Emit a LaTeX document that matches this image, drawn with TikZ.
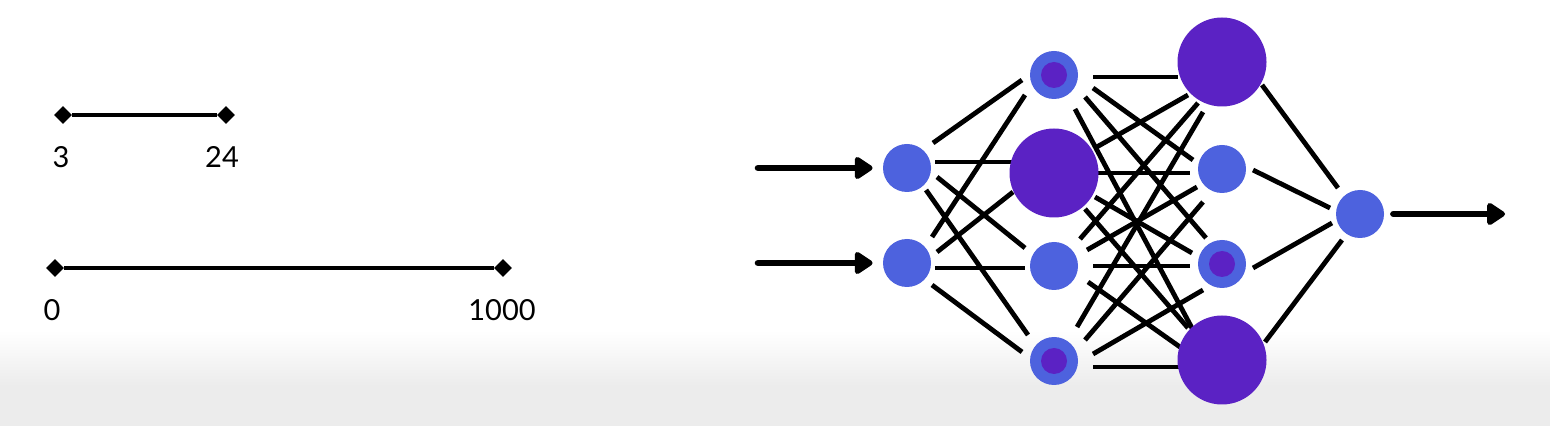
\documentclass[tikz,border=0pt]{standalone}
\usepackage{fontspec}
\setmainfont{Lato}
\usetikzlibrary{arrows.meta,shapes.geometric,backgrounds}

\definecolor{nodeblue}{RGB}{77,98,222}
\definecolor{nodepurple}{RGB}{91,34,196}
\definecolor{bggray}{RGB}{236,236,236}

\tikzset{
  neuron/.style={circle,fill=nodeblue,minimum size=24pt,inner sep=0pt},
  bigneuron/.style={circle,fill=nodepurple,minimum size=44.5pt,inner sep=0pt},
  ringneuron/.style={neuron,path picture={\fill[nodepurple] (path picture bounding box.center) circle (6.5pt);}},
  link/.style={line width=2.4pt},
  flow/.style={line width=3.3pt,line cap=round,-{Triangle[length=10pt,width=12.5pt,round]}},
  tick/.style={diamond,fill=black,minimum size=9pt,inner sep=0pt},
  rangeline/.style={line width=2.4pt},
  num/.style={font=\fontsize{14.5}{17}\selectfont,inner sep=0pt}
}

\begin{document}
\begin{tikzpicture}[x=0.5pt,y=-0.5pt]
    \useasboundingbox (0,0) rectangle (1550,426);

    % Draw the background fading to grey at the bottom
    \begin{scope}[on background layer]
        \fill[white] (0,0) rectangle (1550,331);
        \shade[top color=white,bottom color=bggray] (0,330) rectangle (1550,386);
        \fill[bggray] (0,385) rectangle (1550,426);
    \end{scope}

    % Draw the two ranges
    \node[tick] (a1) at (63,115) {};
    \node[tick] (a2) at (226,115) {};
    \draw[rangeline] (a1) -- (a2);
    \node[num] (la1) at (61,157) {3};
    \node[num] (la2) at (222,157) {24};

    \node[tick] (b1) at (55,268) {};
    \node[tick] (b2) at (503,268) {};
    \draw[rangeline] (b1) -- (b2);
    \node[num] (lb1) at (52,310) {0};
    \node[num] (lb2) at (502,310) {1000};

    % Input layer
    \node[neuron] (x1) at (907,168) {};
    \node[neuron] (x2) at (907,263) {};

    % First hidden layer
    \node[ringneuron] (h1) at (1054,75) {};
    \node[bigneuron] (h2) at (1054,173) {};
    \node[neuron] (h3) at (1054,266) {};
    \node[ringneuron] (h4) at (1054,361) {};

    % Second hidden layer
    \node[bigneuron] (g1) at (1222,62) {};
    \node[neuron] (g2) at (1222,169) {};
    \node[ringneuron] (g3) at (1222,264) {};
    \node[bigneuron] (g4) at (1222,360) {};

    % Output neuron
    \node[neuron] (y) at (1360,214) {};

    % Connections between the layers (ends set off from the centres)
    \begin{scope}[on background layer]
        \foreach \a/\b/\sx/\sy/\ex/\ey in {
            x1/h1/26/-25/-32/5, x1/h2/28/-6/-39/-11, x1/h3/30/9/-29/-18, x1/h4/19/22/-26/-26,
            x2/h1/25/-26/-29/20, x2/h2/30/-11/-41/19, x2/h3/28/5/-29/2, x2/h4/25/22/-32/-9,
            h1/g1/39/2/-44/15, h1/g2/39/13/-29/-9, h1/g3/31/22/-16/-26, h1/g4/21/34/-29/-30,
            h2/g1/41/-25/-34/33, h2/g2/44/0/-32/4, h2/g3/41/24/-30/-11, h2/g4/31/36/-34/-32,
            h3/g1/26/-27/-24/41, h3/g2/33/-16/-25/18, h3/g3/39/0/-32/2, h3/g4/34/16/-42/-13,
            h4/g1/23/-34/-19/50, h4/g2/31/-21/-19/33, h4/g3/39/-7/-19/26, h4/g4/39/6/-42/7,
            g1/y/40/23/-22/-26, g2/y/31/1/-30/-6, g3/y/31/4/-28/9, g4/y/43/-18/-18/26}
            \draw[link] ([shift={(\sx,\sy)}]\a.center) -- ([shift={(\ex,\ey)}]\b.center);
    \end{scope}

    % Input and output arrows
    \coordinate (in1) at (758,168);
    \coordinate (in2) at (758,263);
    \coordinate (out) at (1505,214);
    \draw[flow,shorten >=5pt] (in1) -- (x1);
    \draw[flow,shorten >=5pt] (in2) -- (x2);
    \draw[flow,shorten <=4.5pt] (y) -- (out);
\end{tikzpicture}
\end{document}
